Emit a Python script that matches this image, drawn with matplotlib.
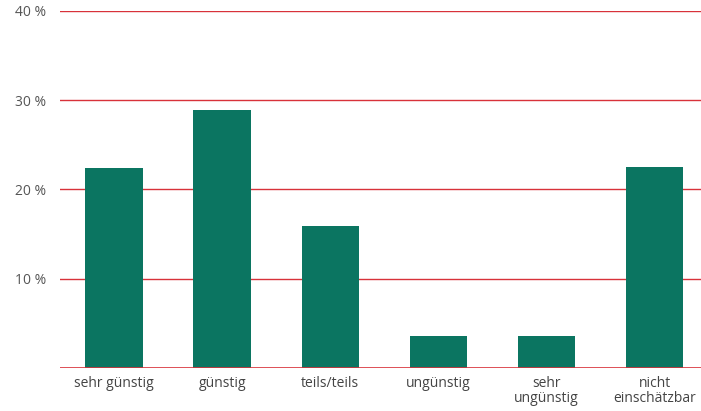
import matplotlib
matplotlib.use('Agg')
import matplotlib.pyplot as plt

kategorien = ['sehr günstig', 'günstig', 'teils/teils', 'ungünstig',
              'sehr\nungünstig', 'nicht\neinschätzbar']
anteile = [22.4, 28.9, 15.9, 3.6, 3.6, 22.5]
yticks = [10, 20, 30, 40]
yticklabels = ['10 %', '20 %', '30 %', '40 %']

plt.rcParams['font.family'] = ['Open Sans', 'DejaVu Sans']

fig = plt.figure(figsize=(7.01, 4.11), dpi=100)
ax = fig.add_axes([60 / 701, 43 / 411, 641 / 701, 357 / 411])

for y in yticks:
    ax.axhline(y, color='#d8323a', linewidth=1.0, zorder=1)
ax.axhline(0, color='#d8323a', linewidth=1.2, zorder=3)

ax.bar(range(len(kategorien)), anteile, width=0.53, color='#0b7561', zorder=2)

ax.set_xlim(-0.5, 5.43)
ax.set_ylim(0, 40)
ax.set_yticks(yticks)
ax.set_yticklabels(yticklabels, color='#555555', fontsize=10)
ax.set_xticks(range(len(kategorien)))
ax.set_xticklabels(kategorien, color='#444444', fontsize=10, linespacing=0.95)
ax.tick_params(axis='both', length=0)
ax.tick_params(axis='y', pad=10)
ax.tick_params(axis='x', pad=6)
for s in ax.spines.values():
    s.set_visible(False)

plt.savefig('out.png', dpi=100)
